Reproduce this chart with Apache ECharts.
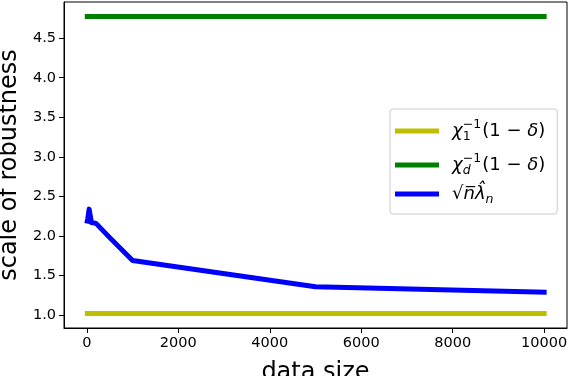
<!DOCTYPE html>
<html>
<head>
<meta charset="utf-8">
<script src="https://cdn.jsdelivr.net/npm/echarts@6/dist/echarts.min.js"></script>
<style>html,body{margin:0;padding:0;background:#fff}#c{width:570px;height:376px}</style>
</head>
<body>
<div id="c"></div>
<script>
const sizes = [10, 20, 50, 100, 200, 500, 1000, 5000, 10000];
const chi1Values = [1.02, 1.02, 1.02, 1.02, 1.02, 1.02, 1.02, 1.02, 1.02];
const chidValues = [4.775, 4.775, 4.775, 4.775, 4.775, 4.775, 4.775, 4.775, 4.775];
const lambdaValues = [2.19, 2.22, 2.34, 2.17, 2.16, 1.98, 1.69, 1.36, 1.29];
const xTicks = [0, 2000, 4000, 6000, 8000, 10000];
const yTicks = [1.0, 1.5, 2.0, 2.5, 3.0, 3.5, 4.0, 4.5];
const seriesNames = ['chi1', 'chid', 'lambda'];

const pair = (ys) => sizes.map((x, i) => [x, ys[i]]);
const font = 'DejaVu Sans';
const LH = 28;
const legendRich = {
  m: { fontFamily: font, fontSize: 18, color: '#000', fontStyle: 'italic', lineHeight: LH },
  r: { fontFamily: font, fontSize: 18, color: '#000', lineHeight: LH },
  sub: { fontFamily: font, fontSize: 12.5, color: '#000', verticalAlign: 'bottom', lineHeight: LH, width: 0.1, padding: [0, 0, 2, 0] },
  subi: { fontFamily: font, fontSize: 12.5, color: '#000', fontStyle: 'italic', verticalAlign: 'bottom', lineHeight: LH, width: 0.1, padding: [0, 0, 2, 0] },
  subn: { fontFamily: font, fontSize: 12.5, color: '#000', fontStyle: 'italic', verticalAlign: 'bottom', lineHeight: LH, padding: [0, 0, 2, 0] },
  sup: { fontFamily: font, fontSize: 12.5, color: '#000', verticalAlign: 'top', lineHeight: LH, padding: [1, 1, 0, 0] }
};
const labels = {
  chi1: '{m|χ}{sub|1}{sup|−1}{r|(1 − }{m|δ}{r|)}',
  chid: '{m|χ}{subi|d}{sup|−1}{r|(1 − }{m|δ}{r|)}',
  lambda: '{r|√}{m|n̅}{m|λ̂}{subn|n}'
};
const lineStyle = (c) => ({ width: 5, color: c, cap: 'square', join: 'round' });
const chart = echarts.init(document.getElementById('c'), null, { renderer: 'canvas' });
chart.setOption({
  animation: false,
  grid: { left: 64, right: 3, top: 2, bottom: 48, show: true, borderColor: '#000', borderWidth: 1, outerBoundsMode: 'none', containLabel: false },
  legend: {
    data: seriesNames,
    orient: 'vertical',
    left: 390, top: 109,
    itemWidth: 44, itemHeight: 5, itemGap: 6,
    icon: 'rect',
    padding: [8, 12, 6, 5],
    borderColor: '#ccc', borderWidth: 1, borderRadius: 3,
    backgroundColor: '#fff',
    formatter: (n) => labels[n],
    textStyle: { rich: legendRich, padding: [0, 0, 0, 8] }
  },
  xAxis: {
    type: 'value', min: -500, max: 10500,
    name: 'data size', nameLocation: 'middle', nameGap: 33,
    nameTextStyle: { fontFamily: font, fontSize: 24, color: '#000' },
    axisLine: { onZero: false, lineStyle: { color: '#000' } },
    axisTick: { show: true, length: 5, customValues: xTicks, lineStyle: { color: '#000' } },
    axisLabel: { customValues: xTicks, fontFamily: font, fontSize: 14.5, color: '#000', margin: 8, formatter: (v) => String(v) },
    splitLine: { show: false }
  },
  yAxis: {
    type: 'value', min: 0.838, max: 4.957,
    name: 'scale of robustness', nameLocation: 'middle', nameGap: 37, nameRotate: 90,
    nameTextStyle: { fontFamily: font, fontSize: 24, color: '#000' },
    axisLine: { show: true, onZero: false, lineStyle: { color: '#000' } },
    axisTick: { show: true, length: 5, customValues: yTicks, lineStyle: { color: '#000' } },
    axisLabel: { customValues: yTicks, fontFamily: font, fontSize: 14.5, color: '#000', margin: 8, formatter: (v) => v.toFixed(1) },
    splitLine: { show: false }
  },
  series: [
    { name: 'chi1', type: 'line', data: pair(chi1Values), showSymbol: false, symbol: 'none', color: '#bfbf00', lineStyle: lineStyle('#bfbf00') },
    { name: 'chid', type: 'line', data: pair(chidValues), showSymbol: false, symbol: 'none', color: '#008000', lineStyle: lineStyle('#008000') },
    { name: 'lambda', type: 'line', data: pair(lambdaValues), showSymbol: false, symbol: 'none', color: '#0000ff', lineStyle: lineStyle('#0000ff') }
  ]
});
</script>
</body>
</html>
